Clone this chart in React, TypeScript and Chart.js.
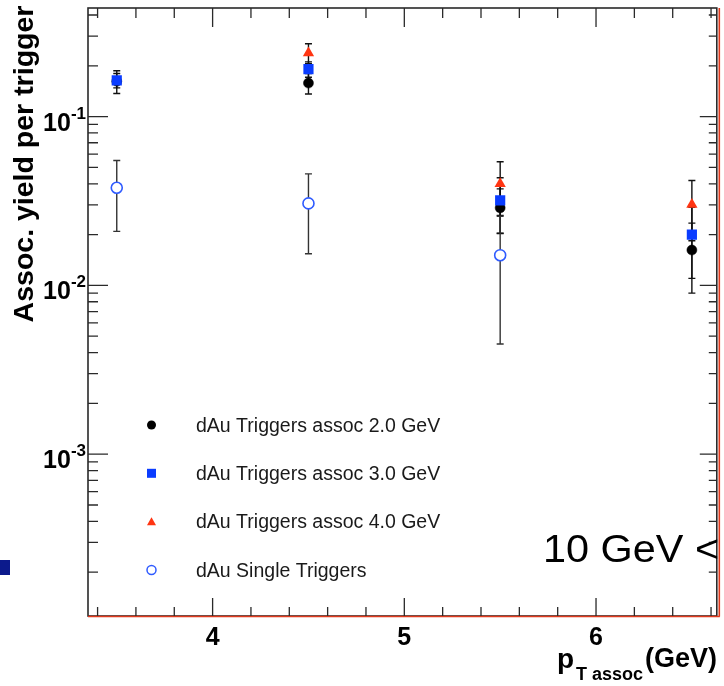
import React, { useEffect, useRef } from 'react';
import { Chart, registerables } from 'chart.js';

Chart.register(...registerables);

// ---- data ----
const xPositions = [3.5, 4.5, 5.5, 6.5];

const assoc2Values = [0.162, 0.158, 0.0288, 0.0162];
const assoc2Errors = [0.025, 0.022, 0.0085, 0.0072];

const assoc3Values = [0.164, 0.191, 0.0319, 0.02];
const assoc3Errors = [0.016, 0.02, 0.0115, 0.009];

const assoc4Values: (number | null)[] = [null, 0.238, 0.04, 0.0301];
const assoc4Errors: (number | null)[] = [null, 0.032, 0.014, 0.0117];

const singleValues: (number | null)[] = [0.0379, 0.0306, 0.0151, null];
const singleErrors: (number | null)[] = [0.017, 0.0152, 0.0106, null];

const seriesLabels = [
  'dAu Triggers assoc 2.0 GeV',
  'dAu Triggers assoc 3.0 GeV',
  'dAu Triggers assoc 4.0 GeV',
  'dAu Single Triggers',
];

const xMajorTicks = [4, 5, 6];
const xTickLabels = ['4', '5', '6'];
const xMinorTicks = [3.4, 3.6, 3.8, 4.2, 4.4, 4.6, 4.8, 5.2, 5.4, 5.6, 5.8, 6.2, 6.4, 6.6];

const yMajorTicks = [1e-3, 1e-2, 1e-1];
const yTickBases = ['10', '10', '10'];
const yTickExponents = ['-3', '-2', '-1'];
const yMinorTicks = [
  2e-4, 3e-4, 4e-4, 5e-4, 6e-4, 7e-4, 8e-4, 9e-4,
  2e-3, 3e-3, 4e-3, 5e-3, 6e-3, 7e-3, 8e-3, 9e-3,
  2e-2, 3e-2, 4e-2, 5e-2, 6e-2, 7e-2, 8e-2, 9e-2,
  2e-1, 3e-1, 4e-1,
];

const X_MIN = 3.35;
const X_MAX = 6.63;
const Y_MIN = 1.1e-4;
const Y_MAX = 0.44;

const yTitle = 'Assoc. yield per trigger';
const cutText = '10 GeV <';

// ---- styles ----
const BLACK = '#000000';
const BLUE = '#0a3cff';
const RED = '#ff3512';
const OPEN_BLUE = '#2f5bff';
const AXIS = '#2a2a2a';
const FRAME_RED = '#e0391c';

const errorSets = [assoc2Errors, assoc3Errors, assoc4Errors, singleErrors];
const valueSets = [assoc2Values, assoc3Values, assoc4Values, singleValues];
const errColors = ['#111', '#111', '#111', '#333'];

function toPoints(vals: (number | null)[]) {
  const pts: { x: number; y: number; i: number }[] = [];
  vals.forEach((v, i) => {
    if (v != null) pts.push({ x: xPositions[i], y: v, i });
  });
  return pts;
}

const errorBarPlugin = {
  id: 'errorBars',
  beforeDatasetsDraw(chart: any) {
    const { ctx } = chart;
    const xs = chart.scales.x;
    const ys = chart.scales.y;
    ctx.save();
    valueSets.forEach((vals, d) => {
      const errs = errorSets[d];
      ctx.strokeStyle = errColors[d];
      ctx.lineWidth = 1.4;
      vals.forEach((v, i) => {
        const e = errs[i];
        if (v == null || e == null) return;
        const px = xs.getPixelForValue(xPositions[i]);
        const lo = v - e > 0 ? v - e : Y_MIN;
        const yT = ys.getPixelForValue(v + e);
        const yB = ys.getPixelForValue(lo);
        ctx.beginPath();
        ctx.moveTo(px, yT);
        ctx.lineTo(px, yB);
        ctx.moveTo(px - 3.5, yT);
        ctx.lineTo(px + 3.5, yT);
        ctx.moveTo(px - 3.5, yB);
        ctx.lineTo(px + 3.5, yB);
        ctx.stroke();
      });
    });
    ctx.restore();
  },
};

function drawMarker(ctx: CanvasRenderingContext2D, kind: number, x: number, y: number) {
  ctx.save();
  if (kind === 0) {
    ctx.fillStyle = BLACK;
    ctx.beginPath();
    ctx.arc(x, y, 4.5, 0, Math.PI * 2);
    ctx.fill();
  } else if (kind === 1) {
    ctx.fillStyle = BLUE;
    ctx.fillRect(x - 4.5, y - 4.5, 9, 9);
  } else if (kind === 2) {
    ctx.fillStyle = RED;
    ctx.beginPath();
    ctx.moveTo(x, y - 4.5);
    ctx.lineTo(x + 4.5, y + 3.5);
    ctx.lineTo(x - 4.5, y + 3.5);
    ctx.closePath();
    ctx.fill();
  } else {
    ctx.strokeStyle = OPEN_BLUE;
    ctx.lineWidth = 1.5;
    ctx.fillStyle = '#fff';
    ctx.beginPath();
    ctx.arc(x, y, 4.5, 0, Math.PI * 2);
    ctx.fill();
    ctx.stroke();
  }
  ctx.restore();
}

const decorPlugin = {
  id: 'decor',
  afterDraw(chart: any) {
    const { ctx, chartArea } = chart;
    const { left, right, top, bottom } = chartArea;
    const xs = chart.scales.x;
    const ys = chart.scales.y;
    ctx.save();

    // frame
    ctx.strokeStyle = AXIS;
    ctx.lineWidth = 1.6;
    ctx.strokeRect(left, top, right - left, bottom - top);

    // red lines (bottom / right)
    ctx.strokeStyle = FRAME_RED;
    ctx.lineWidth = 1.6;
    ctx.beginPath();
    ctx.moveTo(left, bottom + 0.5);
    ctx.lineTo(right + 3, bottom + 0.5);
    ctx.moveTo(right + 2.5, top);
    ctx.lineTo(right + 2.5, bottom + 0.5);
    ctx.stroke();

    // ticks
    ctx.strokeStyle = AXIS;
    ctx.lineWidth = 1.3;
    ctx.beginPath();
    yMajorTicks.forEach((v) => {
      const py = ys.getPixelForValue(v);
      ctx.moveTo(left, py);
      ctx.lineTo(left + 20, py);
      ctx.moveTo(right, py);
      ctx.lineTo(right - 17, py);
    });
    yMinorTicks.forEach((v) => {
      const py = ys.getPixelForValue(v);
      ctx.moveTo(left, py);
      ctx.lineTo(left + 10, py);
      ctx.moveTo(right, py);
      ctx.lineTo(right - 8, py);
    });
    xMajorTicks.forEach((v) => {
      const px = xs.getPixelForValue(v);
      ctx.moveTo(px, bottom);
      ctx.lineTo(px, bottom - 18);
      ctx.moveTo(px, top);
      ctx.lineTo(px, top + 19);
    });
    xMinorTicks.forEach((v) => {
      const px = xs.getPixelForValue(v);
      ctx.moveTo(px, bottom);
      ctx.lineTo(px, bottom - 9);
      ctx.moveTo(px, top);
      ctx.lineTo(px, top + 10);
    });
    ctx.stroke();

    // x tick labels
    ctx.fillStyle = '#000';
    ctx.font = 'bold 25px "Liberation Sans", Arial, sans-serif';
    ctx.textAlign = 'center';
    ctx.textBaseline = 'alphabetic';
    xMajorTicks.forEach((v, i) => {
      ctx.fillText(xTickLabels[i], xs.getPixelForValue(v), 645);
    });

    // y tick labels with superscript
    yMajorTicks.forEach((v, i) => {
      const py = ys.getPixelForValue(v);
      ctx.textAlign = 'right';
      ctx.font = 'bold 17px "Liberation Sans", Arial, sans-serif';
      const expW = ctx.measureText(yTickExponents[i]).width;
      ctx.fillText(yTickExponents[i], 86, py + 2);
      ctx.font = 'bold 25px "Liberation Sans", Arial, sans-serif';
      ctx.fillText(yTickBases[i], 86 - expW, py + 14);
    });

    // y title
    ctx.save();
    ctx.translate(33, 164);
    ctx.rotate(-Math.PI / 2);
    ctx.textAlign = 'center';
    ctx.font = 'bold 28.5px "Liberation Sans", Arial, sans-serif';
    ctx.fillText(yTitle, 0, 0);
    ctx.restore();

    // x title: p_{T assoc}(GeV)
    ctx.textAlign = 'left';
    ctx.font = 'bold 28px "Liberation Sans", Arial, sans-serif';
    ctx.fillText('p', 557, 668);
    ctx.font = 'bold 18px "Liberation Sans", Arial, sans-serif';
    ctx.fillText('T assoc', 576, 680);
    ctx.font = 'bold 27px "Liberation Sans", Arial, sans-serif';
    ctx.fillText('(GeV)', 645, 667);

    // legend
    const rows = [425, 473.3, 521.7, 570];
    ctx.font = '19.5px "Liberation Sans", Arial, sans-serif';
    ctx.textAlign = 'left';
    rows.forEach((ry, k) => {
      drawMarker(ctx, k, 151.5, ry);
      ctx.fillStyle = '#1a1a1a';
      ctx.fillText(seriesLabels[k], 196, ry + 6.5);
    });

    // cut text (clipped at right)
    ctx.save();
    ctx.fillStyle = '#000';
    ctx.font = '38px "Liberation Sans", Arial, sans-serif';
    ctx.translate(543, 562);
    ctx.scale(1.09, 1);
    ctx.fillText(cutText, 0, 0);
    ctx.restore();

    // small navy square at left edge
    ctx.fillStyle = '#0c1a8c';
    ctx.fillRect(0, 560, 10, 15);

    ctx.restore();
  },
};

export default function App() {
  const ref = useRef<HTMLCanvasElement>(null);
  useEffect(() => {
    const canvas = ref.current;
    if (!canvas) return;
    const chart = new Chart(canvas, {
      type: 'scatter',
      data: {
        datasets: [
          {
            label: seriesLabels[0],
            data: toPoints(assoc2Values),
            order: 4,
            pointStyle: 'circle',
            pointRadius: 5,
            backgroundColor: BLACK,
            borderColor: BLACK,
            borderWidth: 0.5,
          },
          {
            label: seriesLabels[1],
            data: toPoints(assoc3Values),
            order: 3,
            pointStyle: 'rect',
            pointRadius: 7.2,
            backgroundColor: BLUE,
            borderColor: BLUE,
            borderWidth: 0,
          },
          {
            label: seriesLabels[2],
            data: toPoints(assoc4Values),
            order: 2,
            pointStyle: 'triangle',
            pointRadius: 6.5,
            backgroundColor: RED,
            borderColor: RED,
            borderWidth: 0,
          },
          {
            label: seriesLabels[3],
            data: toPoints(singleValues),
            order: 1,
            pointStyle: 'circle',
            pointRadius: 5.5,
            backgroundColor: '#ffffff',
            borderColor: OPEN_BLUE,
            borderWidth: 1.6,
          },
        ],
      } as any,
      options: {
        responsive: false,
        animation: false,
        devicePixelRatio: 1,
        layout: { padding: { left: 88, top: 8, right: 7, bottom: 70 } },
        plugins: {
          legend: { display: false },
          tooltip: { enabled: false },
        },
        scales: {
          x: { type: 'linear', min: X_MIN, max: X_MAX, display: false },
          y: { type: 'logarithmic', min: Y_MIN, max: Y_MAX, display: false },
        },
      } as any,
      plugins: [errorBarPlugin, decorPlugin],
    });
    return () => chart.destroy();
  }, []);
  return (
    <div style={{ position: 'fixed', left: 0, top: 0, width: 724, height: 686, background: '#fff' }}>
      <canvas ref={ref} width={724} height={686} style={{ display: 'block', width: 724, height: 686 }} />
    </div>
  );
}
